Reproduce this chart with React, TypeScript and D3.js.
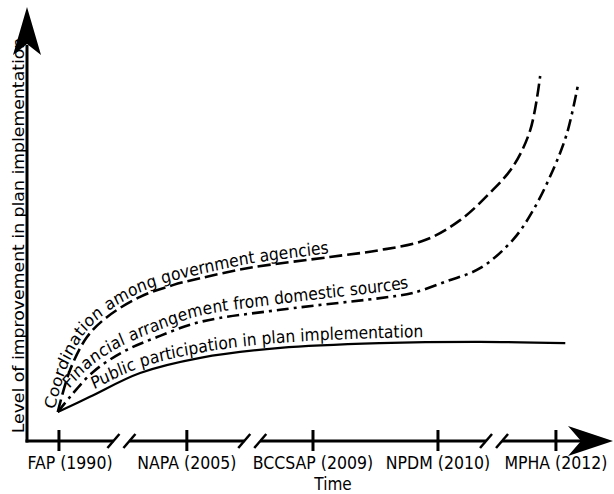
import React from 'react';
import * as d3 from 'd3';

// ---- data (x and y in 0–100 chart units) ----
const milestones = ['FAP (1990)', 'NAPA (2005)', 'BCCSAP (2009)', 'NPDM (2010)', 'MPHA (2012)'];
const milestoneX = [5.3, 27.2, 48.8, 70.2, 90.4];
const axisBreakX = [16.0, 38.4, 79.8];

const seriesNames = [
  'Coordination among government agencies',
  'Financial arrangement from domestic sources',
  'Public participation in plan implementation',
];

const coordX = [5.1, 7.2, 10.1, 13.5, 19.2, 24.8, 29.5, 38.0, 51.7, 60.3, 68.0, 74.0, 79.1, 83.0, 86.0, 87.7];
const coordY = [6.7, 16.4, 24.0, 28.6, 33.3, 36.0, 37.6, 40.0, 42.5, 44.1, 46.4, 51.0, 57.3, 63.3, 71.8, 84.3];

const finX = [5.1, 7.2, 11.1, 16.3, 22.1, 29.5, 43.2, 62.0, 65.9, 71.7, 77.4, 83.0, 86.5, 89.9, 92.3, 94.2];
const finY = [6.7, 10.2, 15.9, 20.6, 24.0, 27.5, 30.3, 33.3, 34.2, 36.9, 39.9, 46.4, 53.3, 62.6, 71.1, 82.4];

const pubX = [5.1, 10.6, 19.2, 29.5, 43.2, 60.3, 77.4, 92.0];
const pubY = [6.7, 10.2, 15.7, 19.2, 21.5, 22.6, 22.9, 22.6];

const W = 614;
const H = 494;
const FONT = 'DejaVu Sans, Verdana, sans-serif';
const K = 0.9; // horizontal squeeze of the lettering seen in the reference

export default function App() {
  const x = d3.scaleLinear().domain([0, 100]).range([28, 612]);
  const y = d3.scaleLinear().domain([0, 100]).range([441, 8]);

  const curve = d3.curveCatmullRom.alpha(0.5);
  const line = d3
    .line<[number, number]>()
    .x((d) => x(d[0]))
    .y((d) => y(d[1]))
    .curve(curve);
  // same curve in the un-squeezed space used by the text group
  const lineT = d3
    .line<[number, number]>()
    .x((d) => x(d[0]) / K)
    .y((d) => y(d[1]))
    .curve(curve);

  const zip = (a: number[], b: number[]) => a.map((v, i) => [v, b[i]] as [number, number]);

  const series = [
    { id: 'c0', name: seriesNames[0], pts: zip(coordX, coordY), dash: '13,5', width: 2.6, dy: -4, off: 1 },
    { id: 'c1', name: seriesNames[1], pts: zip(finX, finY), dash: '12,5,3,5', width: 2.6, dy: -6, off: 26 },
    { id: 'c2', name: seriesNames[2], pts: zip(pubX, pubY), dash: 'none', width: 2.2, dy: -5, off: 46 },
  ];

  const axisY0 = y(0);
  const axisX0 = x(0) - 1;
  const arrowTipX = x(100) + 1;
  const arrowBaseX = arrowTipX - 45;

  const gap = 8;
  const segs: [number, number][] = [];
  let start = axisX0 - 1.5;
  axisBreakX.forEach((b) => {
    segs.push([start, x(b) - gap]);
    start = x(b) + gap;
  });
  segs.push([start, arrowBaseX + 14]);

  return (
    <svg width={W} height={H} style={{ position: 'absolute', left: 0, top: 0, background: '#fff' }}>
      <rect width={W} height={H} fill="#fff" />
      {/* Y axis */}
      <line x1={axisX0} y1={axisY0 + 1.5} x2={axisX0} y2={45} stroke="#000" strokeWidth={3} />
      <path d={`M${axisX0},7 L${axisX0 + 14},55 L${axisX0},44 L${axisX0 - 14},55 Z`} fill="#000" />
      {/* X axis with breaks */}
      {segs.map((s, i) => (
        <line key={i} x1={s[0]} y1={axisY0} x2={s[1]} y2={axisY0} stroke="#000" strokeWidth={3} />
      ))}
      {axisBreakX.map((b, i) => (
        <g key={i}>
          {[-gap, gap].map((o, j) => (
            <line
              key={j}
              x1={x(b) + o - 6}
              y1={axisY0 + 7}
              x2={x(b) + o + 6}
              y2={axisY0 - 7}
              stroke="#000"
              strokeWidth={2.5}
            />
          ))}
        </g>
      ))}
      <path
        d={`M${arrowTipX},${axisY0} L${arrowBaseX},${axisY0 - 15} L${arrowBaseX + 13},${axisY0} L${arrowBaseX},${axisY0 + 15} Z`}
        fill="#000"
      />
      {/* ticks and labels */}
      {milestones.map((m, i) => (
        <g key={m}>
          <line
            x1={x(milestoneX[i])}
            x2={x(milestoneX[i])}
            y1={axisY0 - 11}
            y2={axisY0 + 10}
            stroke="#000"
            strokeWidth={3}
          />
          <text
            transform={`translate(${x(milestoneX[i]) + (i === 0 ? 11 : 0)},469) scale(${K},1)`}
            textAnchor="middle"
            fontFamily={FONT}
            fontSize={17.5}
            fill="#000"
          >
            {m}
          </text>
        </g>
      ))}
      <text
        transform={`translate(333,490) scale(${K},1)`}
        textAnchor="middle"
        fontFamily={FONT}
        fontSize={17}
        fill="#000"
      >
        Time
      </text>
      <text
        transform={`translate(24,${(441 + 30) / 2}) scale(${K},1) rotate(-90)`}
        textAnchor="middle"
        fontFamily={FONT}
        fontSize={17.3}
        fill="#000"
      >
        Level of improvement in plan implementation
      </text>
      {/* curves */}
      {series.map((s) => (
        <path
          key={s.id}
          d={line(s.pts) || ''}
          fill="none"
          stroke="#000"
          strokeWidth={s.width}
          strokeDasharray={s.dash}
        />
      ))}
      <g transform={`scale(${K},1)`}>
        {series.map((s) => (
          <g key={s.id}>
            <path id={`t-${s.id}`} d={lineT(s.pts) || ''} fill="none" stroke="none" />
            <text fontFamily={FONT} fontSize={17.2} fill="#000" dy={s.dy}>
              <textPath href={`#t-${s.id}`} startOffset={s.off}>
                {s.name}
              </textPath>
            </text>
          </g>
        ))}
      </g>
    </svg>
  );
}
